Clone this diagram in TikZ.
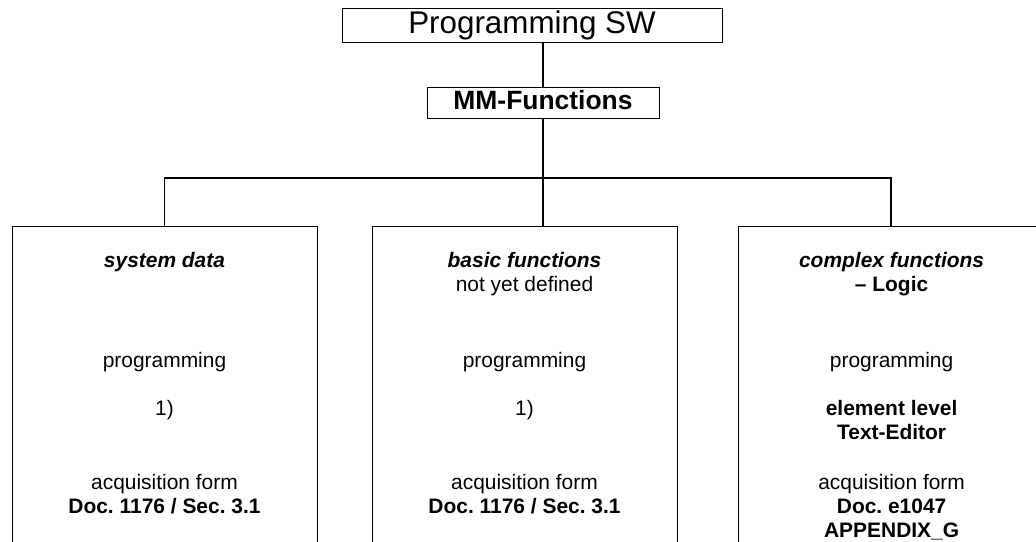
\documentclass[tikz,border=0pt]{standalone}
\usepackage{fontspec}
\setmainfont{Liberation Sans}
\usepackage{tikz}
\frenchspacing

\tikzset{
  frame/.style={draw, line width=0.7pt, inner sep=0pt},
  column/.style={draw, line width=0.7pt, minimum width=7.625cm, minimum height=9cm, anchor=north},
  link/.style={line width=1.4pt},
  body/.style={font=\fontsize{14.9}{17}\selectfont, anchor=base, inner sep=0pt}
}

\begin{document}
\begin{tikzpicture}
		\useasboundingbox (0,0) rectangle (25.9,13.55);
		\clip (0,0) rectangle (25.9,13.55);
		
		\node[frame, minimum width=9.5cm, minimum height=0.85cm, text height=0.56cm, text depth=0.2cm, font=\fontsize{22.3}{26}\selectfont] (title) at (13.3,12.9) {Programming SW};
		\node[frame, minimum width=5.8cm, minimum height=0.775cm, text height=0.47cm, text depth=0.145cm, font=\fontsize{18.8}{22}\selectfont\bfseries] (mm) at (13.575,10.9625) {MM-Functions};
		
		\node[column] (sys) at (4.1125,7.9) {};
		\node[column] (basic) at (13.1125,7.9) {};
		\node[column] (cplx) at (22.275,7.9) {};
		
		\coordinate (bus) at (13.575,9.1);
		\draw[link] (mm.north) -- (mm.north |- title.south);
		\draw[link] (mm.south) -- (mm.south |- basic.north);
		\draw[link] (sys.north) |- (bus) -| (cplx.north);
		
		% system data
		\node[body] (sysHead) at (4.1125,6.85) {\textbf{\textit{system data}}};
		\node[body] (sysProg) at (4.1125,4.35) {programming};
		\node[body] (sysNote) at (4.1125,3.15) {1)};
		\node[body] (sysForm) at (4.1125,1.3) {acquisition form};
		\node[body] (sysDoc) at (4.1125,0.7) {\textbf{Doc. 1176 / Sec. 3.1}};
		
		% basic functions
		\node[body] (basicHead) at (13.1125,6.85) {\textbf{\textit{basic functions}}};
		\node[body] (basicSub) at (13.1125,6.25) {not yet defined};
		\node[body] (basicProg) at (13.1125,4.35) {programming};
		\node[body] (basicNote) at (13.1125,3.15) {1)};
		\node[body] (basicForm) at (13.1125,1.3) {acquisition form};
		\node[body] (basicDoc) at (13.1125,0.7) {\textbf{Doc. 1176 / Sec. 3.1}};
		
		% complex functions
		\node[body] (cplxHead) at (22.29,6.85) {\textbf{\textit{complex functions}}};
		\node[body] (cplxSub) at (22.29,6.25) {\textbf{\textendash{} Logic}};
		\node[body] (cplxProg) at (22.29,4.35) {programming};
		\node[body] (cplxLevel) at (22.29,3.15) {\textbf{element level}};
		\node[body] (cplxEdit) at (22.29,2.55) {\textbf{Text-Editor}};
		\node[body] (cplxForm) at (22.29,1.3) {acquisition form};
		\node[body] (cplxDoc) at (22.29,0.7) {\textbf{Doc. e1047}};
		\node[body] (cplxApp) at (22.29,0.1) {\textbf{APPENDIX\_G}};
	    \end{tikzpicture}
\end{document}
